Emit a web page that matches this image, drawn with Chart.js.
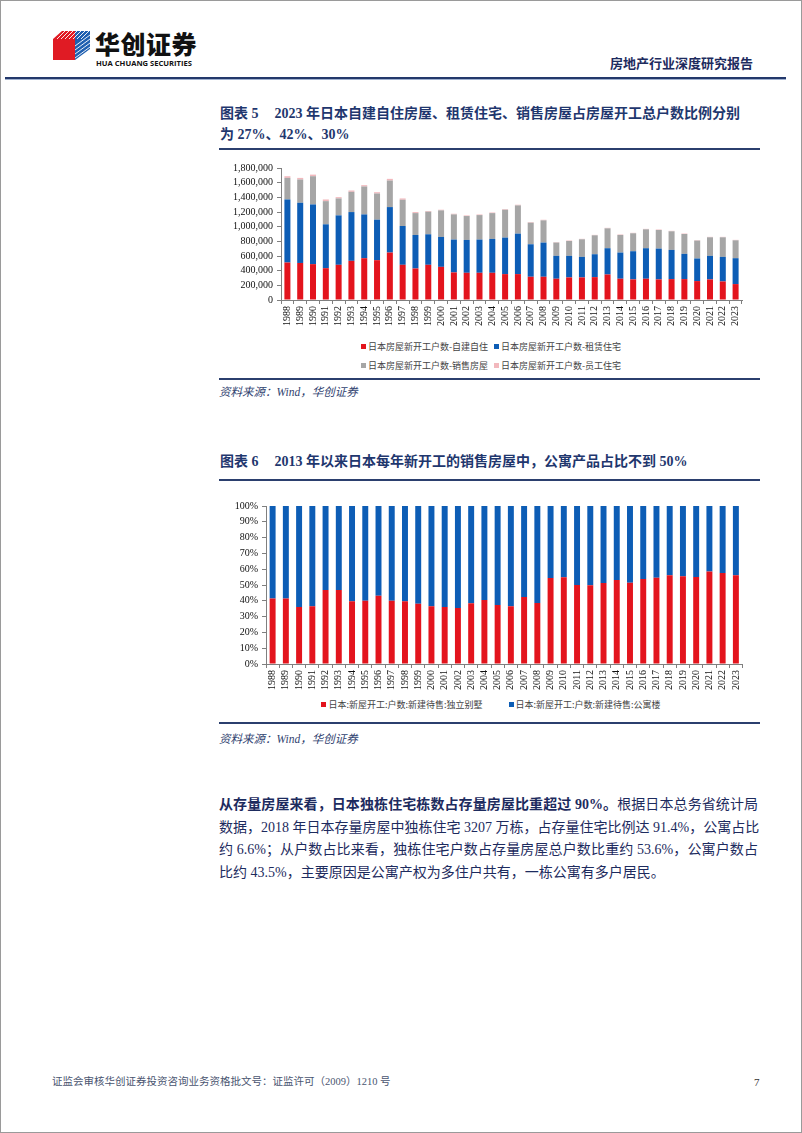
<!DOCTYPE html>
<html><head><meta charset="utf-8">
<script src="https://cdn.jsdelivr.net/npm/chart.js@4.4.1/dist/chart.umd.min.js"></script>
<style>
html,body{margin:0;padding:0;background:#fff;}
#page{position:relative;width:802px;height:1133px;overflow:hidden;box-sizing:border-box;border:1px solid #9a9a9a;font-family:"Liberation Serif","Noto Sans CJK SC",serif;}
.abs{position:absolute;white-space:nowrap;}
.title{font-size:14px;font-weight:bold;color:#1f376e;line-height:20px;}
.title .lab{display:inline-block;margin-right:16px;}
.rule{position:absolute;height:2px;background:#2b3f6e;}
.src{font-size:11.5px;font-style:italic;color:#30426f;}
.legend{position:absolute;text-align:center;font-family:"Noto Sans CJK SC",sans-serif;font-size:9px;color:#444;line-height:12px;}
.legend span.item{display:inline-block;margin:0 3px;}
.legend i{display:inline-block;width:5px;height:5px;margin-right:2px;vertical-align:1px;}
.para{position:absolute;left:218px;width:539px;font-size:14px;color:#1d2b5e;line-height:22.7px;}
.para div{text-align:justify;text-align-last:justify;white-space:nowrap;}
.para div.last{text-align-last:left;}
</style></head>
<body><div id="page">
<!-- header -->
<svg class="abs" style="left:52px;top:29px" width="38" height="31" viewBox="0 0 38 31">
 <polygon points="0,9 9,1 22,1 22,30 0,30" fill="#e01b24"/>
 <polygon points="22,1 37,1 37,19 22,30" fill="#1f5fb0"/>
 <g stroke="#fff" stroke-width="0.9">
  <line x1="4" y1="9" x2="12" y2="1"/><line x1="8" y1="9" x2="16" y2="1"/><line x1="12" y1="9" x2="20" y2="1"/>
  <line x1="16" y1="9" x2="24" y2="1"/><line x1="20" y1="9" x2="28" y2="1"/><line x1="24" y1="9" x2="32" y2="1"/><line x1="28" y1="9" x2="36" y2="1"/>
  <line x1="22" y1="16" x2="37" y2="5"/><line x1="22" y1="20" x2="37" y2="9"/><line x1="22" y1="24" x2="37" y2="13"/><line x1="22" y1="28" x2="37" y2="17"/>
 </g>
 <polygon points="9,9 22,9 22,30 9,30" fill="#e01b24"/>
</svg>
<div class="abs" style="left:94px;top:27px;font-family:'Noto Sans CJK SC';font-weight:900;font-size:25px;line-height:30px;color:#111;letter-spacing:0.5px">华创证券</div>
<div class="abs" style="left:95px;top:57px;font-family:'Open Sans','Noto Sans';font-weight:bold;font-size:7.6px;line-height:10px;color:#111">HUA CHUANG SECURITIES</div>
<div class="abs" style="left:609px;top:54px;font-family:'Noto Sans CJK SC';font-weight:bold;font-size:13px;line-height:16px;color:#1d2b5e">房地产行业深度研究报告</div>
<div class="abs" style="left:4px;top:76px;width:781px;height:2px;background:#23386b"></div>
<div class="abs" style="left:4px;top:78px;width:781px;height:1px;background:#9fb0cf"></div>

<!-- chart 1 -->
<div class="abs title" style="left:219px;top:103px"><span class="lab">图表 5</span>2023 年日本自建自住房屋、租赁住宅、销售房屋占房屋开工总户数比例分别</div>
<div class="abs title" style="left:219px;top:124px">为 27%、42%、30%</div>
<div class="rule" style="left:218px;top:147px;width:541px"></div>
<canvas id="c1" class="abs" style="left:215px;top:155px" width="555" height="172"></canvas>
<div id="lg1" class="legend" style="left:215px;top:336px;width:550px"></div>
<div class="rule" style="left:218px;top:377px;width:541px"></div>
<div class="abs src" style="left:218px;top:382px">资料来源：Wind，华创证券</div>

<!-- chart 2 -->
<div class="abs title" style="left:219px;top:451px"><span class="lab">图表 6</span>2013 年以来日本每年新开工的销售房屋中，公寓产品占比不到 50%</div>
<div class="rule" style="left:218px;top:478px;width:541px"></div>
<canvas id="c2" class="abs" style="left:215px;top:495px" width="555" height="196"></canvas>
<div id="lg2" class="legend" style="left:215px;top:698px;width:550px"></div>
<div class="rule" style="left:218px;top:721px;width:541px"></div>
<div class="abs src" style="left:218px;top:729px">资料来源：Wind，华创证券</div>

<!-- paragraph -->
<div class="para" style="top:793px">
 <div><b>从存量房屋来看，日本独栋住宅栋数占存量房屋比重超过 90%。</b>根据日本总务省统计局</div>
 <div>数据，2018 年日本存量房屋中独栋住宅 3207 万栋，占存量住宅比例达 91.4%，公寓占比</div>
 <div>约 6.6%；从户数占比来看，独栋住宅户数占存量房屋总户数比重约 53.6%，公寓户数占</div>
 <div class="last">比约 43.5%，主要原因是公寓产权为多住户共有，一栋公寓有多户居民。</div>
</div>

<!-- footer -->
<div class="abs" style="left:51px;top:1074px;font-size:10.5px;color:#4a5570;line-height:14px">证监会审核华创证券投资咨询业务资格批文号：证监许可（2009）1210 号</div>
<div class="abs" style="left:753px;top:1074px;font-size:11px;color:#333;line-height:14px">7</div>
</div>

<script>
// ---- data ----
const years = ['1988','1989','1990','1991','1992','1993','1994','1995','1996','1997','1998','1999','2000','2001','2002','2003','2004','2005','2006','2007','2008','2009','2010','2011','2012','2013','2014','2015','2016','2017','2018','2019','2020','2021','2022','2023'];

// Chart 1: housing starts (units)
const seriesNames1 = ['日本房屋新开工户数-自建自住','日本房屋新开工户数-租赁住宅','日本房屋新开工户数-销售房屋','日本房屋新开工户数-员工住宅'];
const selfBuilt = [511000,505000,489000,434000,480000,534000,570000,543000,647000,480000,430000,480000,452000,376000,371000,371000,371000,353000,353000,317000,317000,290000,308000,308000,312000,348000,290000,281000,290000,281000,285000,285000,258000,281000,253000,217000];
const rental    = [860000,821000,814000,598000,674000,665000,597000,552000,620000,529000,457000,416000,408000,448000,448000,453000,462000,498000,552000,443000,466000,312000,294000,280000,312000,358000,357000,384000,416000,420000,398000,344000,308000,321000,335000,353000];
const forSale   = [294000,317000,385000,316000,231000,276000,381000,357000,362000,358000,298000,308000,362000,343000,326000,334000,352000,380000,385000,294000,303000,181000,203000,240000,258000,271000,240000,245000,258000,254000,254000,271000,244000,253000,267000,244000];
const staffHousing = [23000,22000,22000,23000,18000,18000,18000,18000,23000,18000,14000,10000,9000,9000,8000,8000,8000,8000,9000,8000,8000,6000,6000,6000,6000,7000,6000,6000,6000,6000,6000,6000,6000,6000,6000,6000];
const yTickLabels1 = ['0','200,000','400,000','600,000','800,000','1,000,000','1,200,000','1,400,000','1,600,000','1,800,000'];

// Chart 2: share of new houses for sale (%)
const seriesNames2 = ['日本:新屋开工:户数:新建待售:独立别墅','日本:新屋开工:户数:新建待售:公寓楼'];
const detachedPct  = [41.4,41.4,36.1,36.5,46.8,46.8,39.7,40.1,43.2,40.1,39.7,38.2,36.5,36.1,35.4,38.4,40.5,37.3,36.5,42.4,38.6,54.4,54.9,50.0,49.8,51.3,53.2,51.5,53.8,54.6,56.1,55.5,55.1,58.6,57.6,56.1];
const apartmentPct = [58.6,58.6,63.9,63.5,53.2,53.2,60.3,59.9,56.8,59.9,60.3,61.8,63.5,63.9,64.6,61.6,59.5,62.7,63.5,57.6,61.4,45.6,45.1,50.0,50.2,48.7,46.8,48.5,46.2,45.4,43.9,44.5,44.9,41.4,42.4,43.9];
const yTickLabels2 = ['0%','10%','20%','30%','40%','50%','60%','70%','80%','90%','100%'];

const colors1 = ['#e3141d','#0d5db5','#a6a6a6','#f2b8bd'];
const colors2 = ['#e3141d','#0d5db5'];

// ---- helpers ----
function buildLegend(id, names, cols, rows) {
  const el = document.getElementById(id);
  let html = '';
  rows.forEach(r => {
    html += '<div>' + r.map(i => '<span class="item"><i style="background:' + cols[i] + '"></i>' + names[i] + '</span>').join('') + '</div>';
  });
  el.innerHTML = html;
}
buildLegend('lg1', seriesNames1, colors1, [[0,1],[2,3]]);
document.querySelector('#lg1').style.lineHeight = '19px';
buildLegend('lg2', seriesNames2, colors2, [[0,1]]);
document.querySelectorAll('#lg2 span.item').forEach(s => s.style.margin = '0 13px');

const axisColor = '#7f7f7f';
function xScale(h) {
  return {
    stacked: true,
    grid: { display: true, drawOnChartArea: false, drawTicks: true, tickLength: 4, color: axisColor, offset: true },
    border: { display: true, color: axisColor },
    ticks: { font: { family: 'Liberation Serif', size: 10 }, color: '#111', maxRotation: 90, minRotation: 90, autoSkip: false, padding: 2 },
    afterFit(s) { s.height = h; }
  };
}
function yScale(max, step, labels, w) {
  return {
    stacked: true, min: 0, max: max,
    grid: { display: true, drawOnChartArea: false, drawTicks: true, tickLength: 4, color: axisColor },
    border: { display: true, color: axisColor },
    ticks: { stepSize: step, autoSkip: false, font: { family: 'Liberation Serif', size: 10 }, color: '#111', padding: 4,
      callback: (v, i) => labels[i] },
    afterFit(s) { s.width = w; }
  };
}

new Chart(document.getElementById('c1'), {
  type: 'bar',
  data: {
    labels: years,
    datasets: [selfBuilt, rental, forSale, staffHousing].map((d, i) => ({
      label: seriesNames1[i], data: d, backgroundColor: colors1[i],
      barPercentage: 0.47, categoryPercentage: 1.0
    }))
  },
  options: {
    responsive: false, animation: false, devicePixelRatio: 1,
    layout: { padding: { top: 12, right: 29, left: 0, bottom: 0 } },
    plugins: { legend: { display: false }, tooltip: { enabled: false } },
    scales: { x: xScale(28), y: yScale(1800000, 200000, yTickLabels1, 65) }
  }
});

new Chart(document.getElementById('c2'), {
  type: 'bar',
  data: {
    labels: years,
    datasets: [detachedPct, apartmentPct].map((d, i) => ({
      label: seriesNames2[i], data: d, backgroundColor: colors2[i],
      barPercentage: 0.45, categoryPercentage: 1.0
    }))
  },
  options: {
    responsive: false, animation: false, devicePixelRatio: 1,
    layout: { padding: { top: 10, right: 28.5, left: 0, bottom: 0 } },
    plugins: { legend: { display: false }, tooltip: { enabled: false } },
    scales: { x: xScale(28), y: yScale(100, 10, yTickLabels2, 50) }
  }
});
</script>
</body></html>
